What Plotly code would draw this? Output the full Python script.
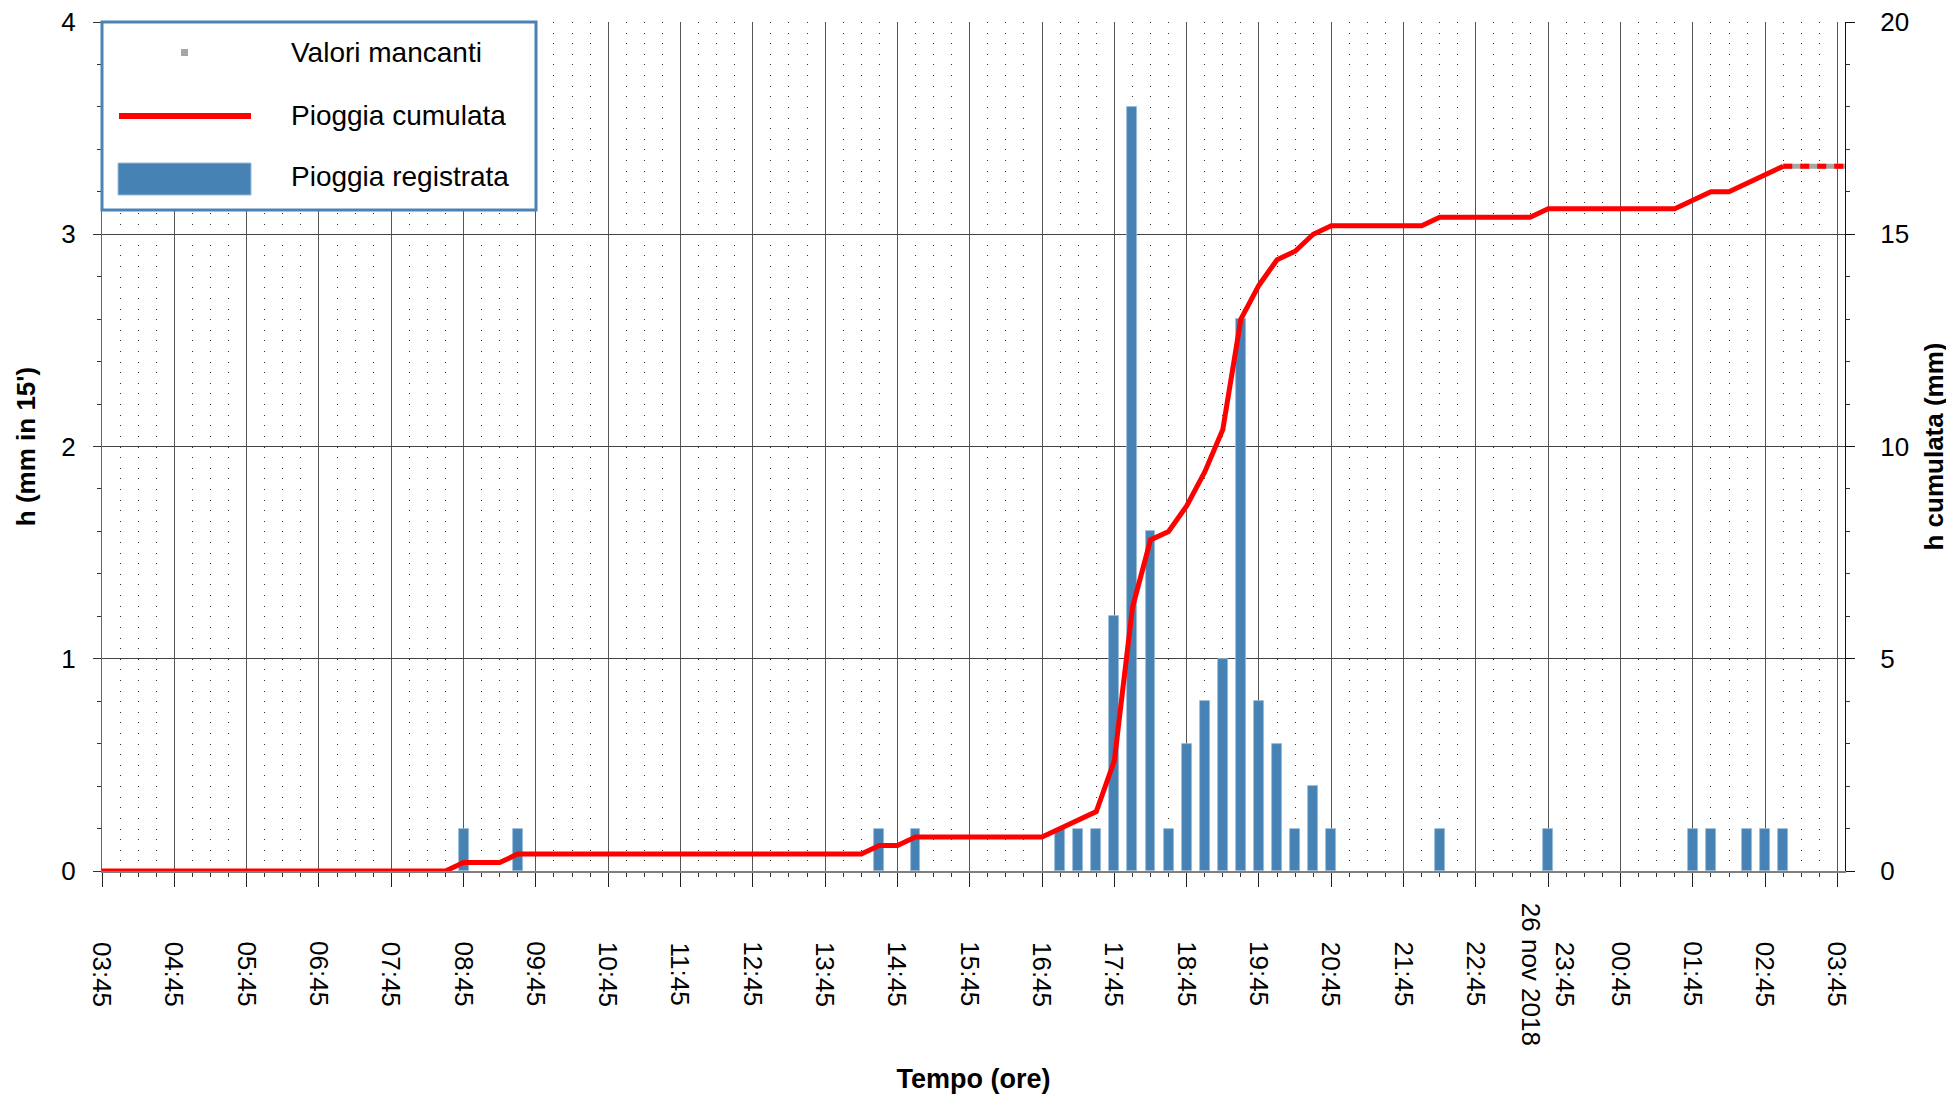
import plotly.graph_objects as go

# ---------------- data ----------------
bar_times = [
    "2018-11-25 08:45", "2018-11-25 09:30", "2018-11-25 14:30", "2018-11-25 15:00",
    "2018-11-25 17:00", "2018-11-25 17:15", "2018-11-25 17:30", "2018-11-25 17:45",
    "2018-11-25 18:00", "2018-11-25 18:15", "2018-11-25 18:30", "2018-11-25 18:45",
    "2018-11-25 19:00", "2018-11-25 19:15", "2018-11-25 19:30", "2018-11-25 19:45",
    "2018-11-25 20:00", "2018-11-25 20:15", "2018-11-25 20:30", "2018-11-25 20:45",
    "2018-11-25 22:15", "2018-11-25 23:45", "2018-11-26 01:45", "2018-11-26 02:00",
    "2018-11-26 02:30", "2018-11-26 02:45", "2018-11-26 03:00",
]
bar_values = [
    0.2, 0.2, 0.2, 0.2,
    0.2, 0.2, 0.2, 1.2,
    3.6, 1.6, 0.2, 0.6,
    0.8, 1.0, 2.6, 0.8,
    0.6, 0.2, 0.4, 0.2,
    0.2, 0.2, 0.2, 0.2,
    0.2, 0.2, 0.2,
]

cum_times = [
    "2018-11-25 03:45", "2018-11-25 08:30", "2018-11-25 08:45", "2018-11-25 09:15",
    "2018-11-25 09:30", "2018-11-25 14:15", "2018-11-25 14:30", "2018-11-25 14:45",
    "2018-11-25 15:00", "2018-11-25 16:45", "2018-11-25 17:00", "2018-11-25 17:15",
    "2018-11-25 17:30", "2018-11-25 17:45", "2018-11-25 18:00", "2018-11-25 18:15",
    "2018-11-25 18:30", "2018-11-25 18:45", "2018-11-25 19:00", "2018-11-25 19:15",
    "2018-11-25 19:30", "2018-11-25 19:45", "2018-11-25 20:00", "2018-11-25 20:15",
    "2018-11-25 20:30", "2018-11-25 20:45", "2018-11-25 22:00", "2018-11-25 22:15",
    "2018-11-25 23:30", "2018-11-25 23:45", "2018-11-26 01:30", "2018-11-26 01:45",
    "2018-11-26 02:00", "2018-11-26 02:15", "2018-11-26 02:30", "2018-11-26 02:45",
    "2018-11-26 03:00",
]
cum_values = [
    0.0, 0.0, 0.2, 0.2,
    0.4, 0.4, 0.6, 0.6,
    0.8, 0.8, 1.0, 1.2,
    1.4, 2.6, 6.2, 7.8,
    8.0, 8.6, 9.4, 10.4,
    13.0, 13.8, 14.4, 14.6,
    15.0, 15.2, 15.2, 15.4,
    15.4, 15.6, 15.6, 15.8,
    16.0, 16.0, 16.2, 16.4,
    16.6,
]

missing_times = ["2018-11-26 03:00", "2018-11-26 03:15", "2018-11-26 03:30",
                 "2018-11-26 03:45", "2018-11-26 04:00"]
missing_values = [16.6, 16.6, 16.6, 16.6, 16.6]

tick_times = [
    "2018-11-25 03:45", "2018-11-25 04:45", "2018-11-25 05:45", "2018-11-25 06:45",
    "2018-11-25 07:45", "2018-11-25 08:45", "2018-11-25 09:45", "2018-11-25 10:45",
    "2018-11-25 11:45", "2018-11-25 12:45", "2018-11-25 13:45", "2018-11-25 14:45",
    "2018-11-25 15:45", "2018-11-25 16:45", "2018-11-25 17:45", "2018-11-25 18:45",
    "2018-11-25 19:45", "2018-11-25 20:45", "2018-11-25 21:45", "2018-11-25 22:45",
    "2018-11-25 23:45", "2018-11-26 00:45", "2018-11-26 01:45", "2018-11-26 02:45",
    "2018-11-26 03:45",
]
tick_labels = [
    "03:45", "04:45", "05:45", "06:45", "07:45", "08:45", "09:45", "10:45",
    "11:45", "12:45", "13:45", "14:45", "15:45", "16:45", "17:45", "18:45",
    "19:45", "20:45", "21:45", "22:45", "23:45<br>26 nov 2018", "00:45", "01:45",
    "02:45", "03:45",
]

legend_labels = ["Valori mancanti", "Pioggia cumulata", "Pioggia registrata"]

# ---------------- layout geometry ----------------
# page has an 8px body margin, so the figure is 16px smaller than the window
W, H = 1946, 1089
L, R, T, B = 102, 1845, 22, 871          # plot area in window pixels
OFF = 8
FONT = "Liberation Sans, Arial, sans-serif"
BLUE = "#4682B4"
RED = "#FF0000"
GRAY = "#A6A6A6"


def px(x):
    return (x - L) / (R - L)


def py(y):
    return (B - y) / (B - T)


dot_step = (B - T) / 80.0

fig = go.Figure()

fig.add_trace(go.Bar(
    x=bar_times, y=bar_values, name=legend_labels[2],
    width=495000, marker=dict(color=BLUE, line=dict(color="#9DBBD8", width=0.8)),
    yaxis="y", showlegend=False,
))

fig.add_trace(go.Scatter(
    x=missing_times, y=missing_values, mode="lines", name=legend_labels[0],
    line=dict(color=GRAY, width=5), yaxis="y2", showlegend=False, hoverinfo="skip",
))
fig.add_trace(go.Scatter(
    x=missing_times, y=missing_values, mode="lines", name=legend_labels[1] + " (stimata)",
    line=dict(color=RED, width=5, dash="9px,8px"), yaxis="y2", showlegend=False,
))
fig.add_trace(go.Scatter(
    x=cum_times, y=cum_values, mode="lines", name=legend_labels[1],
    line=dict(color=RED, width=5), yaxis="y2", showlegend=False,
))

# x tick labels (rotated, centred)
annotations = []
for t, lab in zip(tick_times, tick_labels):
    annotations.append(dict(
        x=t, y=py(974), xref="x", yref="paper", text=lab, showarrow=False,
        textangle=90, xanchor="center", yanchor="middle", align="center",
        font=dict(family=FONT, size=26, color="black"),
    ))

# legend (drawn manually to match the large symbols)
shapes = [
    dict(type="rect", xref="paper", yref="paper", x0=px(102), x1=px(536), y0=py(210), y1=py(22),
         fillcolor="white", line=dict(color="#4A82B8", width=3), layer="above"),
    dict(type="rect", xref="paper", yref="paper", x0=px(181), x1=px(188), y0=py(56), y1=py(49),
         fillcolor=GRAY, line=dict(width=0), layer="above"),
    dict(type="line", xref="paper", yref="paper", x0=px(119), x1=px(251), y0=py(116), y1=py(116),
         line=dict(color=RED, width=6), layer="above"),
    dict(type="rect", xref="paper", yref="paper", x0=px(118), x1=px(251), y0=py(195), y1=py(163),
         fillcolor=BLUE, line=dict(color="#9DBBD8", width=1), layer="above"),
]
for lab, ycen in zip(legend_labels, [52, 115, 177]):
    annotations.append(dict(
        x=px(289), y=py(ycen), xref="paper", yref="paper", text=lab, showarrow=False,
        xanchor="left", yanchor="middle", font=dict(family=FONT, size=28, color="black"),
    ))

fig.update_layout(
    width=W, height=H, autosize=False,
    margin=dict(l=L - OFF, r=W - (R - OFF), t=T - OFF, b=H - (B - OFF), pad=0),
    paper_bgcolor="white", plot_bgcolor="white",
    font=dict(family=FONT, size=26, color="black"),
    showlegend=False, bargap=0,
    shapes=shapes, annotations=annotations,
    xaxis=dict(
        type="date", range=["2018-11-25 03:45", "2018-11-26 03:51:15"],
        tickmode="array", tickvals=tick_times, showticklabels=False,
        ticks="outside", ticklen=14, tickcolor="#222", tickwidth=1,
        showgrid=True, gridcolor="#555555", gridwidth=1,
        showline=True, linecolor="#808080", linewidth=2, zeroline=False,
        minor=dict(dtick=900000, tick0="2018-11-25 03:45", ticks="outside", ticklen=4,
                   tickcolor="#333", showgrid=True, gridcolor="#333333", gridwidth=1,
                   griddash="1px,%.4fpx" % (dot_step - 1)),
        title=dict(text="Tempo (ore)", standoff=183,
                   font=dict(family=FONT, size=27, color="black", weight="bold")),
        automargin=False,
    ),
    yaxis=dict(
        range=[0, 4], dtick=1, tick0=0, showgrid=True, gridcolor="#444444", gridwidth=1,
        ticks="outside", ticklen=8, tickcolor="#333", ticklabelstandoff=12,
        ticklabeloverflow="allow",
        showline=True, linecolor="#666666", linewidth=1, zeroline=False,
        minor=dict(dtick=0.2, ticks="outside", ticklen=4, tickcolor="#333", showgrid=False),
        tickfont=dict(family=FONT, size=26, color="black"),
        title=dict(text="h (mm in 15')", standoff=18,
                   font=dict(family=FONT, size=26, color="black", weight="bold")),
        automargin=False,
    ),
    yaxis2=dict(
        range=[0, 20], dtick=5, tick0=0, overlaying="y", side="right", anchor="x",
        showgrid=False, zeroline=False,
        ticks="outside", ticklen=9, tickcolor="#111", ticklabelstandoff=20,
        ticklabeloverflow="allow",
        showline=True, linecolor="#111111", linewidth=1,
        minor=dict(dtick=1, ticks="outside", ticklen=4, tickcolor="#333"),
        tickfont=dict(family=FONT, size=26, color="black"),
        title=dict(text="h cumulata (mm)", standoff=16,
                   font=dict(family=FONT, size=26, color="black", weight="bold")),
        automargin=False,
    ),
)

fig.write_html("out.html")
